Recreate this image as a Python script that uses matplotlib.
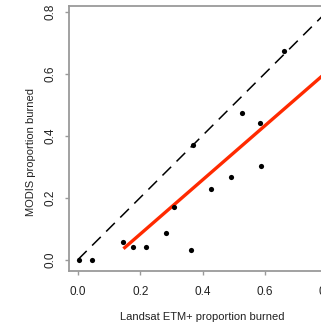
import matplotlib
matplotlib.use("Agg")
import matplotlib.pyplot as plt
import numpy as np

# Landsat ETM+ vs MODIS proportion burned
landsat = [0.003, 0.046, 0.146, 0.176, 0.219, 0.282, 0.31, 0.363, 0.37,
           0.427, 0.493, 0.526, 0.585, 0.588, 0.662]
modis = [-0.003, -0.001, 0.056, 0.039, 0.040, 0.086, 0.171, 0.030, 0.369,
         0.227, 0.265, 0.473, 0.442, 0.302, 0.672]

# fitted regression line
fit_intercept = -0.0925
fit_slope = 0.873
fit_x = [0.146, 0.85]

one_to_one = [0.0, 0.85]

ticks = [0.0, 0.2, 0.4, 0.6, 0.8]
tick_labels = ["0.0", "0.2", "0.4", "0.6", "0.8"]

plt.rcParams['font.family'] = ['Liberation Sans', 'DejaVu Sans']

W, H = 321, 326
fig = plt.figure(figsize=(W / 100, H / 100), dpi=100)
ax = fig.add_axes([69 / W, 55 / H, 267 / W, 265 / H])

ax.plot(one_to_one, one_to_one, color='black', lw=1.1, dashes=(8, 5), zorder=2)
fx = np.array(fit_x)
ax.plot(fx, fit_intercept + fit_slope * fx, color='#ff2a00', lw=2.4,
        solid_capstyle='butt', zorder=3)
ax.scatter(landsat, modis, s=14, color='black', zorder=4, linewidths=0)

ax.set_xlim(-0.029, 0.829)
ax.set_ylim(-0.037, 0.818)

ax.set_xticks(ticks)
ax.set_xticklabels(tick_labels)
ax.set_yticks(ticks)
ax.set_yticklabels(tick_labels, rotation=90, va='center')

for s in ax.spines.values():
    s.set_color('#9a9a9a')
    s.set_linewidth(1.3)
ax.tick_params(axis='both', color='#9a9a9a', length=3, width=1,
               labelsize=8.5, labelcolor='#222222')
ax.tick_params(axis='x', pad=8)
ax.tick_params(axis='y', pad=6)

ax.set_xlabel("Landsat ETM+ proportion burned", fontsize=8, color='#222222')
ax.set_ylabel("MODIS proportion burned", fontsize=8, color='#222222')
ax.xaxis.set_label_coords(0.5, -0.155)
ax.yaxis.set_label_coords(-0.125, 0.449)

fig.savefig("out.png", dpi=100)
